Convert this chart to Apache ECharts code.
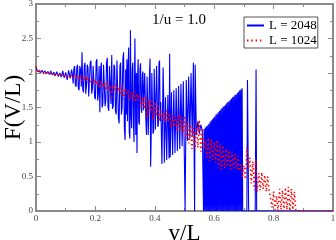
<!DOCTYPE html>
<html><head><meta charset="utf-8">
<script src="https://cdn.jsdelivr.net/npm/echarts@6/dist/echarts.min.js"></script>
<style>html,body{margin:0;padding:0;background:#fff}#c{width:336px;height:240px}</style>
</head><body><div id="c"></div>
<script>
var titleText = "1/u = 1.0";
var seriesNames = ["L = 2048", "L = 1024"];
var xTickLabels = ["0", "0.2", "0.4", "0.6", "0.8", "1"];
var yTickLabels = ["0", "0.5", "1", "1.5", "2", "2.5", "3"];

// L = 2048 (blue, solid) : [v/L, F]
var blueData = [
[0,2.08],[0.005,2.03],[0.01,2.05],[0.015,2.01],[0.02,2.04],[0.025,2.0],[0.03,2.03],[0.035,1.99],[0.04,2.02],[0.045,1.98],
[0.05,2.03],[0.055,1.97],[0.06,2.01],[0.065,1.96],[0.07,2.02],[0.075,1.95],[0.08,2.0],[0.085,1.94],[0.09,2.03],[0.095,1.93],
[0.1,2.01],[0.105,1.9],[0.11,2.04],[0.115,1.92],[0.12,2.05],
[0.1225,1.98],[0.125,1.85],[0.1275,2.06],[0.13,2.1],[0.1325,1.83],[0.135,1.8],[0.1375,2.08],[0.14,2.12],[0.1425,1.78],[0.145,1.75],
[0.1475,2.1],[0.15,2.05],[0.1525,1.8],[0.155,2.3],[0.1575,1.76],[0.16,1.72],[0.1625,2.1],[0.165,2.15],[0.1675,1.7],[0.17,1.82],
[0.1725,2.12],[0.175,2.08],[0.1775,1.66],[0.18,1.68],[0.1825,2.15],[0.185,2.18],[0.1875,1.7],[0.19,1.78],[0.1925,2.1],[0.195,2.12],
[0.1975,1.65],[0.2,1.62],[0.2025,2.16],[0.205,2.2],[0.2075,1.6],[0.21,1.7],[0.2125,2.1],[0.215,1.43],[0.2175,2.05],[0.22,2.15],
[0.2225,1.5],[0.225,1.55],[0.2275,2.12],[0.23,2.1],[0.2325,1.52],[0.235,1.6],[0.2375,2.15],[0.24,2.22],[0.2425,1.5],[0.245,1.45],
[0.2475,2.1],[0.25,2.12],[0.2525,1.55],[0.255,2.26],[0.2575,1.48],[0.26,1.52],[0.2625,2.12],[0.265,2.08],[0.2675,1.45],[0.27,1.4],
[0.2725,2.18],[0.275,2.2],[0.2775,1.35],[0.28,1.27],[0.2825,2.1],[0.285,2.15],[0.2875,1.4],[0.29,1.5],[0.2925,2.2],[0.295,2.3],
[0.2975,1.2],[0.3,1.03],
[0.302,2.05],[0.304,1.4],[0.306,2.2],[0.308,1.3],[0.31,2.1],[0.312,2.37],[0.314,1.15],[0.316,1.05],[0.318,2.62],[0.32,1.4],
[0.322,1.2],[0.324,2.05],[0.326,2.15],[0.328,1.3],[0.33,1.0],[0.333,2.5],[0.336,1.1],[0.338,2.0],
[0.34,0.84],[0.342,1.95],[0.344,2.2],[0.346,1.3],[0.348,1.25],[0.35,2.05],[0.352,2.14],
[0.354,1.5],[0.356,1.42],[0.358,1.98],[0.36,2.02],[0.362,1.46],[0.364,1.45],[0.366,2.0],[0.368,2.0],[0.37,1.3],[0.372,1.1],
[0.374,1.95],[0.376,1.94],[0.378,1.1],[0.38,1.08],[0.382,1.98],[0.384,2.21],[0.386,0.64],[0.388,1.12],[0.39,2.0],[0.392,2.02],
[0.394,1.12],[0.396,1.15],[0.398,2.06],[0.4,2.08],[0.402,1.18],[0.404,1.2],[0.406,2.1],[0.408,2.12],[0.41,1.22],[0.412,1.25],
[0.414,2.15],[0.416,2.18],[0.418,1.3],
[0.42,1.58],[0.422,1.6],[0.424,0.68],[0.426,0.7],[0.428,2.08],[0.43,1.62],[0.432,0.7],[0.434,0.72],[0.436,1.65],[0.438,1.66],
[0.44,0.74],[0.442,0.75],[0.444,1.68],[0.446,1.7],[0.448,0.76],[0.45,2.28],[0.452,0.78],[0.454,0.8],[0.456,1.72],[0.458,1.74],
[0.46,0.81],[0.462,0.82],[0.464,1.75],[0.466,1.76],[0.468,0.84],[0.47,0.85],[0.472,1.78],[0.474,1.8],[0.476,0.87],[0.478,0.88],
[0.48,1.81],[0.482,1.82],[0.484,0.9],[0.486,0.92],[0.488,1.84],[0.49,1.86],[0.492,0.94],[0.494,0.95],[0.496,1.88],
[0.498,1.9],[0.502,0.0],
[0.506,1.9],[0.51,1.02],[0.514,1.95],[0.518,1.05],[0.522,2.0],[0.526,1.08],[0.53,2.15],[0.534,0.0],[0.536,2.12],[0.54,1.1],
[0.545,1.3],[0.55,1.12],[0.555,1.25],[0.56,1.16],
[0.562,1.17],[0.564,0],[0.566,1.19],[0.568,0],[0.57,1.21],[0.572,0],[0.574,1.23],[0.576,0],[0.578,1.24],[0.58,0],
[0.582,1.26],[0.584,0],[0.586,1.29],[0.588,0],[0.59,1.31],[0.592,0],[0.594,1.33],[0.596,0],[0.598,1.35],[0.6,0],
[0.602,1.37],[0.604,0],[0.606,1.4],[0.608,0],[0.61,1.41],[0.612,0],[0.614,1.43],[0.616,0],[0.618,1.45],[0.62,0],
[0.622,1.47],[0.624,0],[0.626,1.49],[0.628,0],[0.63,1.51],[0.632,0],[0.634,1.52],[0.636,0],[0.638,1.54],[0.64,0],
[0.642,1.56],[0.644,0],[0.646,1.58],[0.648,0],[0.65,1.59],[0.652,0],[0.654,1.61],[0.656,0],[0.658,1.63],[0.66,0],
[0.662,1.65],[0.664,0],[0.666,1.66],[0.668,0],[0.67,1.68],[0.672,0],[0.674,1.69],[0.676,0],[0.678,1.71],[0.68,0],
[0.682,1.73],[0.684,0],[0.686,1.75],[0.688,0],[0.69,1.76],[0.692,0],[0.694,1.78],[0.696,0],
[0.71,0],[0.712,1.9],[0.714,1.92],[0.716,0],[0.738,0],[0.741,2.05],[0.743,0],[0.75,0],[1.0,0]
];

// L = 1024 (red, dotted) : [v/L, F]
var redData = [
[0,2.1],[0.005,2.02],[0.01,2.05],[0.015,2.0],[0.02,2.03],[0.025,1.99],[0.03,2.02],[0.035,1.98],[0.04,2.01],[0.045,1.97],
[0.05,2.0],[0.055,1.97],[0.06,2.0],[0.065,1.96],[0.07,1.99],[0.075,1.96],[0.08,1.99],[0.085,1.95],[0.09,1.98],[0.095,1.95],
[0.1,1.98],[0.105,1.94],[0.11,1.97],[0.115,1.93],[0.12,1.98],[0.125,1.93],[0.13,1.97],[0.135,1.92],[0.14,1.96],[0.145,1.9],
[0.15,1.97],[0.155,1.88],[0.16,1.95],[0.165,1.9],[0.17,1.96],[0.175,1.86],[0.18,1.93],[0.185,1.87],[0.19,1.92],[0.195,1.84],
[0.2,1.9],[0.205,1.83],[0.21,1.9],[0.215,1.78],[0.22,1.88],[0.225,1.8],[0.23,1.86],[0.235,1.75],[0.24,1.88],[0.245,1.74],
[0.25,1.83],[0.255,1.63],[0.26,1.82],[0.265,1.75],[0.27,1.84],[0.275,1.72],[0.28,1.8],[0.285,1.68],[0.29,1.82],[0.295,1.62],
[0.3,1.78],[0.305,1.7],[0.31,1.75],[0.315,1.6],[0.32,1.72],[0.325,1.62],[0.33,1.74],[0.335,1.58],[0.34,1.7],[0.345,1.6],
[0.35,1.68],[0.355,1.5],[0.36,1.65],[0.365,1.48],[0.37,1.66],[0.375,1.35],[0.38,1.6],[0.385,1.42],[0.39,1.62],[0.395,1.32],
[0.4,1.58],[0.405,1.38],[0.41,1.55],[0.415,1.3],[0.42,1.45],[0.425,1.33],[0.43,1.44],[0.435,1.28],[0.44,1.46],[0.445,1.3],
[0.45,1.42],[0.455,1.2],[0.46,1.4],[0.465,1.22],[0.47,1.38],[0.475,1.18],[0.48,1.4],[0.485,1.15],[0.49,1.36],[0.495,1.14],
[0.5,1.38],[0.505,1.05],[0.51,1.3],[0.515,0.98],[0.52,1.25],[0.525,0.9],[0.53,1.2],[0.535,0.88],[0.54,1.28],[0.545,0.92],
[0.55,1.32],[0.555,0.86],[0.56,1.2],[0.565,0.9],[0.57,1.02],[0.575,0.78],[0.58,1.06],[0.585,0.72],[0.59,1.04],[0.595,0.74],
[0.6,1.0],[0.605,0.7],[0.61,1.03],[0.615,0.62],[0.62,0.98],[0.625,0.6],[0.63,0.95],[0.635,0.62],[0.64,0.9],[0.645,0.64],
[0.65,0.88],[0.655,0.6],[0.66,0.86],[0.665,0.62],[0.67,0.82],[0.675,0.6],[0.68,0.8],[0.685,0.58],[0.69,0.68],[0.695,0.48],
[0.7,0.66],[0.705,0.46],[0.71,0.92],[0.715,0.62],[0.72,0.77],[0.725,0.4],[0.73,0.72],[0.735,0.3],[0.74,0.75],[0.745,0.28],
[0.75,0.55],[0.755,0.3],[0.76,0.56],[0.765,0.32],[0.77,0.52],[0.775,0.28],[0.78,0.5],[0.785,0.3],[0.79,0.3],[0.795,0.05],
[0.8,0.28],[0.805,0.02],[0.81,0.22],[0.815,0.0],[0.82,0.32],[0.825,0.02],[0.83,0.3],[0.835,0.0],[0.84,0.34],[0.845,0.02],
[0.85,0.35],[0.855,0.0],[0.86,0.32],[0.865,0.02],[0.87,0.28],[0.875,0.0],[0.9,0],[0.95,0],[1.0,0]
];

var SERIF = "'Liberation Serif', 'DejaVu Serif', serif";
var axisGrey = "#8a8a8a";
function xAxisDef(pos, showLabels) {
  return {
    type: "value", position: pos, min: 0, max: 1, interval: 0.2,
    name: pos === "bottom" ? "v/L" : "", nameLocation: "middle", nameGap: 11, nameMoveOverlap: false,
    nameTextStyle: {fontFamily: SERIF, fontSize: 23, color: "#000"},
    axisLine: {show: true, onZero: false, lineStyle: {color: axisGrey, width: 2}},
    axisTick: {show: true, inside: true, length: 5, lineStyle: {color: axisGrey, width: 1}},
    minorTick: {show: true, splitNumber: 2, length: 3, lineStyle: {color: axisGrey, width: 1}},
    splitLine: {show: false}, minorSplitLine: {show: false},
    axisLabel: {show: showLabels, fontFamily: SERIF, fontSize: 9, color: "#444", margin: 3,
      formatter: function (v) { return xTickLabels[Math.round(v / 0.2)]; }}
  };
}
function yAxisDef(pos, showLabels) {
  return {
    type: "value", position: pos, min: 0, max: 3, interval: 0.5,
    name: pos === "left" ? "F(V/L)" : "", nameLocation: "middle", nameGap: 11, nameMoveOverlap: false,
    nameTextStyle: {fontFamily: SERIF, fontSize: 23, color: "#000"},
    axisLine: {show: true, onZero: false, lineStyle: {color: axisGrey, width: 2}},
    axisTick: {show: true, inside: true, length: 5, lineStyle: {color: axisGrey, width: 1}},
    minorTick: {show: true, splitNumber: 2, length: 3, lineStyle: {color: axisGrey, width: 1}},
    splitLine: {show: false}, minorSplitLine: {show: false},
    axisLabel: {show: showLabels, fontFamily: SERIF, fontSize: 9, color: "#444", margin: 3,
      formatter: function (v) { return yTickLabels[Math.round(v / 0.5)]; }}
  };
}

var chart = echarts.init(document.getElementById("c"), null, {renderer: "canvas"});
chart.setOption({
  animation: false,
  backgroundColor: "#fff",
  grid: {left: 36, right: 3, top: 4, bottom: 29, containLabel: false, outerBoundsMode: "none"},
  title: {text: titleText, left: 152, top: 13, padding: 0,
    textStyle: {fontFamily: SERIF, fontSize: 15, fontWeight: "normal", color: "#000"}},
  legend: {
    data: seriesNames, orient: "vertical", left: 244, top: 17,
    itemWidth: 17, itemHeight: 11, itemGap: 2,
    itemStyle: {opacity: 0},
    padding: [2, 1, 1, 2], borderColor: "#555", borderWidth: 1, backgroundColor: "#fff",
    textStyle: {fontFamily: SERIF, fontSize: 13, color: "#000"}
  },
  xAxis: [xAxisDef("bottom", true), xAxisDef("top", false)],
  yAxis: [yAxisDef("left", true), yAxisDef("right", false)],
  series: [
    {name: seriesNames[0], type: "line", data: blueData, showSymbol: false, symbol: "none",
     xAxisIndex: 0, yAxisIndex: 0,
     lineStyle: {color: "#0000ff", width: 1.1}, itemStyle: {color: "#0000ff"}},
    {name: seriesNames[1], type: "line", data: redData, showSymbol: false, symbol: "none",
     xAxisIndex: 0, yAxisIndex: 0,
     lineStyle: {color: "#ff0000", width: 1.5, type: [1.5, 2.8]}, itemStyle: {color: "#ff0000"}}
  ]
});
</script></body></html>
